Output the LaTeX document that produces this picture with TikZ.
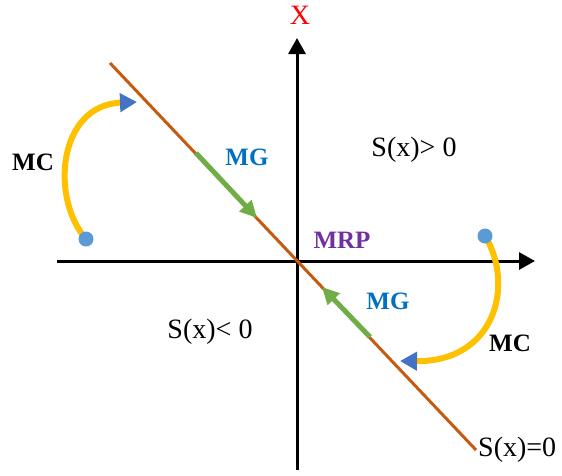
\documentclass[tikz,border=0pt]{standalone}
\usepackage{fontspec}
\setmainfont{Liberation Serif}
\usetikzlibrary{arrows.meta,positioning}
\definecolor{slide}{HTML}{C55A11}
\definecolor{mggreen}{HTML}{70AD47}
\definecolor{mcyellow}{HTML}{FFC000}
\definecolor{tipblue}{HTML}{4472C4}
\definecolor{dotblue}{HTML}{5B9BD5}
\definecolor{mgtext}{HTML}{0070C0}
\definecolor{mrptext}{HTML}{7030A0}

\begin{document}
\begin{tikzpicture}[x=1pt,y=-1pt,
  axis/.style={line width=3pt,-{Triangle[length=16pt,width=17pt]}},
  surf/.style={draw=slide,line width=3pt},
  mg/.style={draw=mggreen,line width=5pt,-{Triangle[length=17pt,width=16pt]}},
  mc/.style={draw=mcyellow,line width=6pt,-{Triangle[color=tipblue,length=17pt,width=18pt]}},
  dot/.style={circle,fill=dotblue,inner sep=0pt,minimum size=15pt},
  lab/.style={inner sep=0pt,font=\fontsize{25}{28}\selectfont\bfseries},
  reg/.style={inner sep=0pt,font=\fontsize{28}{32}\selectfont}]
  \useasboundingbox (0,0) rectangle (562,475);
  % axes
  \coordinate (xl) at (57,261);
  \coordinate (xr) at (535,261);
  \coordinate (yb) at (297,470);
  \coordinate (yt) at (297,38);
  \draw[axis] (xl) -- (xr);
  \draw[axis] (yb) -- (yt);
  \node[reg,text=red] (xlab) at (300,15) {X};
  % sliding surface
  \coordinate (s1) at (110,63);
  \coordinate (s2) at (476,450);
  \draw[surf] (s1) -- (s2);
  \node[reg,right=2pt of s2] (s0) {S(x)=0};
  % sliding mode
  \coordinate (g1) at (196,153);
  \coordinate (g2) at (257,218);
  \coordinate (g3) at (370,337);
  \coordinate (g4) at (322,287);
  \draw[mg] (g1) -- (g2);
  \draw[mg] (g3) -- (g4);
  % reaching mode
  \coordinate (p1) at (86,239);
  \coordinate (p2) at (485,236);
  \coordinate (r1) at (137,102);
  \coordinate (r2) at (400,361);
  \draw[mc] (p1) .. controls (50,198) and (58,105) .. (r1);
  \draw[mc] (p2) .. controls (515,285) and (495,362) .. (r2);
  \node[dot] (d1) at (p1) {};
  \node[dot] (d2) at (p2) {};
  % labels
  \node[lab] (mc1) at (33,162) {MC};
  \node[lab] (mc2) at (510,343) {MC};
  \node[lab,text=mgtext] (mg1) at (247,157) {MG};
  \node[lab,text=mgtext] (mg2) at (388,301) {MG};
  \node[lab,text=mrptext] (mrp) at (342,240) {MRP};
  \node[reg] (pos) at (414,150) {S(x)> 0};
  \node[reg] (neg) at (210,332) {S(x)< 0};
\end{tikzpicture}
\end{document}
